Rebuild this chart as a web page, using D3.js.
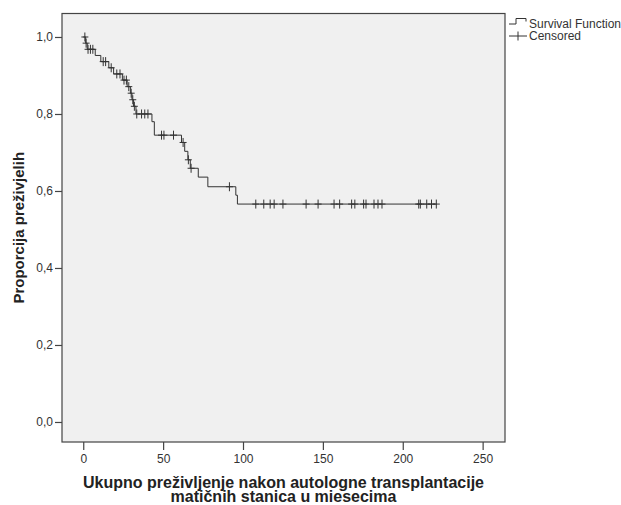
<!DOCTYPE html>
<html>
<head>
<meta charset="utf-8">
<script src="https://cdn.jsdelivr.net/npm/d3@7"></script>
<style>
  body { margin: 0; background: #fff; }
  text { font-family: "Liberation Sans", Arial, sans-serif; }
</style>
</head>
<body>
<div id="chart"></div>
<script>
// event times (months) and survival proportion after each drop
var eventTimes = [1.5, 2.5, 7.5, 11, 16, 19, 24.5, 27.5, 29.5, 30.5, 31.5, 33, 43, 44.5, 61.5, 63.5, 65.5, 67, 72, 78, 95.5, 96.5];
var survival   = [0.984, 0.968, 0.952, 0.936, 0.920, 0.904, 0.888, 0.871, 0.854, 0.837, 0.820, 0.800, 0.780, 0.745, 0.726, 0.703, 0.681, 0.659, 0.636, 0.611, 0.589, 0.566];
// censored observations (months)
var censored = [1, 1.8, 3, 4.5, 6, 12.5, 14, 17.5, 21, 23, 25.5, 27, 28.5, 30, 31, 32, 33.5,
                36.5, 38.5, 40.5, 49, 50.5, 56.5, 62.5, 65.8, 67.5, 91.5,
                108, 113, 117, 119.5, 125, 139.5, 147, 157, 160.5, 168, 170, 175.5, 177,
                182, 184.5, 187, 210, 211, 215, 218, 221];
var xTicks = [0, 50, 100, 150, 200, 250];
var yTicks = [0, 0.2, 0.4, 0.6, 0.8, 1.0];

var W = 621, H = 505;
var frame = {left: 62, right: 505, top: 13.5, bottom: 442};

var svg = d3.select("#chart").append("svg")
    .attr("width", W)
    .attr("height", H);

var x = d3.scaleLinear().domain([-13.3, 264]).range([frame.left, frame.right]);
var y = d3.scaleLinear().domain([-0.052, 1.061]).range([frame.bottom, frame.top]);

//plot background + frame
svg.append("rect")
    .attr("x", frame.left).attr("y", frame.top)
    .attr("width", frame.right - frame.left)
    .attr("height", frame.bottom - frame.top)
    .attr("fill", "#f0f0f0")
    .attr("stroke", "#444")
    .attr("stroke-width", 1.2);

//y-axis
var yAxis = svg.append("g")
    .attr("transform", "translate(" + frame.left + ",0)")
    .call(d3.axisLeft(y).tickValues(yTicks).tickSize(7).tickSizeOuter(0)
        .tickFormat(function(d){ return d3.format(".1f")(d).replace(".", ","); }));
yAxis.select(".domain").remove();
yAxis.selectAll("line").attr("stroke", "#444").attr("stroke-width", 1.2);
yAxis.selectAll("text").attr("font-size", "12px").attr("fill", "#333")
    .attr("font-family", "Liberation Sans, Arial, sans-serif").attr("x", -9);

//x-axis
var xAxis = svg.append("g")
    .attr("transform", "translate(0," + frame.bottom + ")")
    .call(d3.axisBottom(x).tickValues(xTicks).tickSize(8).tickSizeOuter(0));
xAxis.select(".domain").remove();
xAxis.selectAll("line").attr("stroke", "#444").attr("stroke-width", 1.2);
xAxis.selectAll("text").attr("font-size", "12px").attr("fill", "#333")
    .attr("font-family", "Liberation Sans, Arial, sans-serif").attr("y", 12);

//survival curve
var lastT = d3.max(censored);
var pts = [[0, 1]];
eventTimes.forEach(function(t, i){ pts.push([t, survival[i]]); });
pts.push([lastT, survival[survival.length - 1]]);

var line = d3.line()
    .x(function(d){ return x(d[0]); })
    .y(function(d){ return y(d[1]); })
    .curve(d3.curveStepAfter);

svg.append("path")
    .datum(pts)
    .attr("d", line)
    .attr("fill", "none")
    .attr("stroke", "#333")
    .attr("stroke-width", 1);

function survAt(t){
    var s = 1;
    eventTimes.forEach(function(e, i){ if (e <= t) s = survival[i]; });
    return s;
}

//censored marks
svg.append("g")
    .selectAll("path")
    .data(censored)
    .enter()
    .append("path")
        .attr("d", function(d){
            var cx = x(d), cy = y(survAt(d));
            return "M" + cx + "," + (cy - 4.5) + "V" + (cy + 4.5) +
                   "M" + (cx - 3.5) + "," + cy + "H" + (cx + 3.5);
        })
        .attr("stroke", "#333")
        .attr("stroke-width", 1)
        .attr("fill", "none");

//legend
var lg = svg.append("g");
lg.append("path")
    .attr("d", "M509,24H516V18.5H526V21.5")
    .attr("fill", "none").attr("stroke", "#333").attr("stroke-width", 1);
lg.append("path")
    .attr("d", "M509,36H527M518,31.5V40.5")
    .attr("fill", "none").attr("stroke", "#333").attr("stroke-width", 1);
lg.append("text").attr("x", 529).attr("y", 27.5)
    .attr("font-size", "12px").attr("fill", "#333").text("Survival Function");
lg.append("text").attr("x", 529).attr("y", 40)
    .attr("font-size", "12px").attr("fill", "#333").text("Censored");

//axis titles
svg.append("text")
    .attr("x", (frame.left + frame.right) / 2)
    .attr("y", 488)
    .attr("text-anchor", "middle")
    .attr("font-size", "16px")
    .attr("font-weight", "bold")
    .attr("fill", "#222")
    .text("Ukupno preživljenje nakon autologne transplantacije");
svg.append("text")
    .attr("x", (frame.left + frame.right) / 2)
    .attr("y", 502)
    .attr("text-anchor", "middle")
    .attr("font-size", "16px")
    .attr("font-weight", "bold")
    .attr("fill", "#222")
    .text("matičnih stanica u miesecima");

svg.append("text")
    .attr("transform", "translate(24," + ((frame.top + frame.bottom) / 2) + ") rotate(-90)")
    .attr("text-anchor", "middle")
    .attr("font-size", "15px")
    .attr("font-weight", "bold")
    .attr("fill", "#222")
    .text("Proporcija preživjelih");
</script>
</body>
</html>
